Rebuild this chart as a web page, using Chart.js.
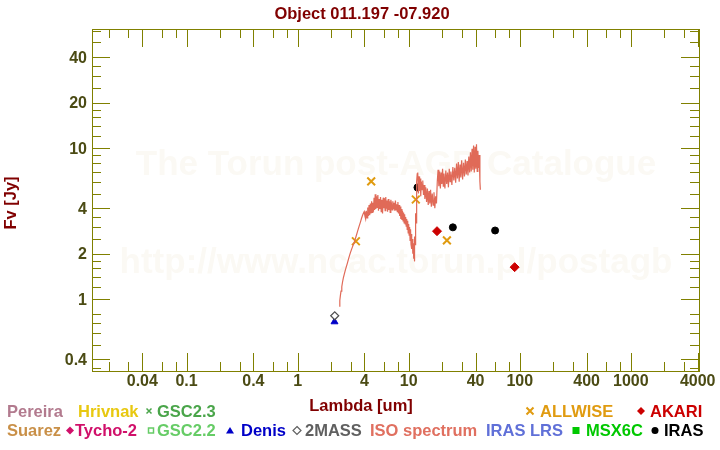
<!DOCTYPE html>
<html>
<head>
<meta charset="utf-8">
<title>Object 011.197 -07.920</title>
<script src="https://cdn.jsdelivr.net/npm/chart.js@4.4.1/dist/chart.umd.min.js"></script>
<style>
  html, body { margin: 0; padding: 0; background: #fff; }
  #wrap { width: 720px; height: 450px; position: relative; }
</style>
</head>
<body>
<div id="wrap"><canvas id="sed"></canvas></div>
<script>
// ISO spectrum (lambda in um, flux in Jy)
const isoLambda = [
  2.37, 2.40, 2.43, 2.46, 2.50, 2.54, 2.58, 2.63, 2.68, 2.74, 2.80, 2.86, 2.92, 2.98, 3.05, 3.12, 3.20, 3.28,
  3.36, 3.44, 3.52, 3.60, 3.68, 3.76, 3.84, 3.92, 3.98,
  4.04, 4.10, 4.16, 4.22, 4.28, 4.34, 4.40, 4.46, 4.52, 4.58, 4.64, 4.70, 4.76, 4.82, 4.88, 4.94, 5.00, 5.07,
  5.14, 5.21, 5.28, 5.35, 5.42, 5.50, 5.58, 5.66, 5.74, 5.82, 5.90, 5.98, 6.06, 6.14, 6.22, 6.30, 6.38, 6.46,
  6.55, 6.64, 6.73, 6.82, 6.91,
  7.00, 7.10, 7.20, 7.30, 7.40, 7.50, 7.60, 7.70, 7.80, 7.90, 8.00, 8.10, 8.20, 8.30, 8.40, 8.50, 8.60, 8.70,
  8.80, 8.90, 9.00, 9.10, 9.20, 9.30, 9.40, 9.50, 9.60, 9.70, 9.80, 9.90, 10.00, 10.10, 10.20, 10.30, 10.40,
  10.50, 10.60, 10.70, 10.80, 10.90, 11.00, 11.10, 11.20, 11.25, 11.35, 11.45, 11.55, 11.65, 11.75, 11.85,
  11.95, 12.05, 12.10,
  12.25, 12.40, 12.55, 12.70, 12.85, 13.00, 13.20, 13.40, 13.60, 13.80, 14.00, 14.25, 14.50, 14.75, 15.00,
  15.25, 15.50, 15.75, 16.00, 16.30, 16.60, 16.90, 17.20, 17.50, 17.80,
  18.10, 18.40, 18.70, 19.00, 19.30, 19.60, 19.90, 20.20, 20.50, 20.80, 21.20, 21.60, 22.00, 22.40, 22.80,
  23.20, 23.60, 24.00, 24.50, 25.00, 25.50, 26.00, 26.50, 27.00, 27.50, 28.00, 28.50, 29.00, 29.50, 30.00,
  30.60, 31.20, 31.80, 32.40, 33.00, 33.60, 34.20, 34.80, 35.40, 36.00, 36.60, 37.20, 37.80, 38.40, 39.00,
  39.60, 40.20, 40.80, 41.40, 42.00, 42.60, 43.20, 43.80, 44.20
];
const isoFlux = [
  0.90, 0.98, 1.06, 1.13, 1.21, 1.30, 1.38, 1.46, 1.54, 1.63, 1.72, 1.82, 1.92, 2.02, 2.12, 2.22, 2.33, 2.45,
  2.60, 2.76, 2.92, 3.08, 3.24, 3.42, 3.58, 3.72, 3.80,
  3.55, 3.40, 3.85, 3.45, 4.05, 3.55, 4.20, 3.60, 4.30, 3.70, 4.45, 3.75, 4.35, 3.80, 4.70, 3.90, 4.95, 3.95,
  4.80, 4.05, 4.90, 3.85, 4.60, 3.95, 4.75, 3.80, 4.55, 3.70, 4.70, 4.00, 4.65, 3.85, 4.75, 4.00, 4.50, 3.80,
  4.60, 3.90, 4.45, 3.75, 4.55,
  4.30, 3.90, 4.45, 3.95, 4.35, 3.85, 4.50, 3.90, 4.25, 3.80, 4.40, 3.70, 4.20, 3.55, 4.10, 3.40, 3.95, 3.35,
  3.85, 3.30, 3.75, 3.20, 3.65, 3.15, 3.50, 3.05, 3.40, 2.90, 3.30, 2.75, 3.15, 2.65, 3.00, 2.45, 2.90,
  2.30, 2.70, 2.15, 2.50, 2.00, 2.35, 1.85, 2.20, 1.78, 2.60, 2.30, 3.70, 3.20, 5.00, 6.00,
  6.80, 6.20, 6.90,
  5.00, 6.50, 5.20, 6.30, 4.80, 6.00, 5.30, 6.10, 4.90, 5.70, 4.60, 5.50, 4.40, 5.40, 4.20,
  5.20, 4.30, 5.30, 4.10, 5.00, 4.20, 5.10, 4.00, 4.80, 4.30,
  6.00, 7.20, 5.60, 7.00, 5.40, 6.90, 5.80, 7.30, 5.60, 6.80, 5.40, 7.10, 5.80, 6.90, 5.50,
  7.30, 6.00, 7.00, 5.70, 7.50, 6.10, 7.40, 5.90, 7.90, 6.30, 8.10, 6.00, 7.80, 6.40, 8.30,
  6.20, 8.00, 6.50, 8.40, 6.70, 8.20, 6.60, 8.80, 6.90, 9.40, 7.00, 9.90, 7.20, 10.40, 6.90,
  10.20, 7.30, 10.60, 7.00, 9.60, 7.40, 9.00, 6.00, 5.30
];

// photometry
const allwiseLambda = [3.35, 4.6, 11.6, 22.1];
const allwiseFlux = [2.42, 6.02, 4.57, 2.45];
const akariLambda = [18, 90];
const akariFlux = [2.82, 1.63];
const irasLambda = [12, 25, 60];
const irasFlux = [5.49, 2.99, 2.85];
const twomassLambda = [2.16];
const twomassFlux = [0.777];
const denisLambda = [2.15];
const denisFlux = [0.709];

// axis ranges and ticks
const xRange = [0.0141, 4110];
const yRange = [0.335, 61.4];
const xMajor = [0.04, 0.1, 0.4, 1, 4, 10, 40, 100, 400, 1000, 4000];
const xMinor = [0.02, 0.03, 0.06, 0.08, 0.2, 0.3, 0.6, 0.8, 2, 3, 6, 8, 20, 30, 60, 80,
                200, 300, 600, 800, 2000, 3000];
const yMajor = [0.4, 1, 2, 4, 10, 20, 40];
const yMinor = [0.35, 0.5, 0.6, 0.7, 0.8, 1.2, 1.4, 1.6, 1.8, 2.5, 3, 3.5, 5, 6, 7, 8, 9,
                12, 14, 16, 18, 25, 30, 35, 50, 60];

const titleText = 'Object 011.197 -07.920';
const watermark = ['The Torun post-AGB Catalogue', 'http://www.ncac.torun.pl/postagb'];

// catalogue legend: [label, colour, symbol, symbol x, text x, row]
const legendItems = [
  ['Pereira', '#b27a8e', null, 0, 7, 0],
  ['Hrivnak', '#e8c810', null, 0, 78, 0],
  ['GSC2.3', '#4aa54a', 'smallcross', 149, 157, 0],
  ['ALLWISE', '#e09b10', 'cross', 530, 540, 0],
  ['AKARI', '#cc0000', 'diamond', 641, 650, 0],
  ['Suarez', '#c99048', null, 0, 7, 1],
  ['Tycho-2', '#d0106a', 'diamond', 70, 75, 1],
  ['GSC2.2', '#66cc66', 'opensquare', 151, 157, 1],
  ['Denis', '#0000c8', 'triangle', 230, 241, 1],
  ['2MASS', '#606060', 'opendiamond', 297, 305, 1],
  ['ISO spectrum', '#e07060', null, 0, 370, 1],
  ['IRAS LRS', '#6070d8', null, 0, 486, 1],
  ['MSX6C', '#00c800', 'square', 576, 586, 1],
  ['IRAS', '#000000', 'circle', 655, 664, 1]
];

const FONT = '"Liberation Sans", Arial, Helvetica, sans-serif';
const frameColor = '#808000';
const tickTextColor = '#4b4b14';
const titleColor = '#800000';

function pts(xs, ys) {
  return xs.map((x, i) => ({ x: x, y: ys[i] }));
}

// keep the log axes exactly on the requested range
function fixRange(range) {
  return function(scale) {
    scale.min = range[0];
    scale.max = range[1];
  };
}

function drawSymbol(ctx, kind, x, y, color) {
  ctx.save();
  ctx.fillStyle = color;
  ctx.strokeStyle = color;
  ctx.beginPath();
  if (kind == 'cross' || kind == 'smallcross') {
    let r = kind == 'cross' ? 3.5 : 2.5;
    ctx.lineWidth = kind == 'cross' ? 2 : 1.5;
    ctx.moveTo(x - r, y - r); ctx.lineTo(x + r, y + r);
    ctx.moveTo(x - r, y + r); ctx.lineTo(x + r, y - r);
    ctx.stroke();
  } else if (kind == 'diamond' || kind == 'opendiamond') {
    ctx.moveTo(x, y - 4); ctx.lineTo(x + 4, y); ctx.lineTo(x, y + 4); ctx.lineTo(x - 4, y);
    ctx.closePath();
    if (kind == 'diamond') ctx.fill(); else { ctx.lineWidth = 1.2; ctx.stroke(); }
  } else if (kind == 'opensquare') {
    ctx.lineWidth = 1.5;
    ctx.strokeRect(x - 2.5, y - 2.5, 5, 5);
  } else if (kind == 'square') {
    ctx.fillRect(x - 3.5, y - 3.5, 7, 7);
  } else if (kind == 'triangle') {
    ctx.moveTo(x, y - 3.5); ctx.lineTo(x + 4, y + 3); ctx.lineTo(x - 4, y + 3);
    ctx.closePath();
    ctx.fill();
  } else if (kind == 'circle') {
    ctx.arc(x, y, 3.5, 0, Math.PI * 2);
    ctx.fill();
  }
  ctx.restore();
}

const sedFrame = {
  id: 'sedFrame',
  beforeDatasetsDraw(chart) {
    const ctx = chart.ctx;
    ctx.save();
    ctx.fillStyle = '#fbf9f4';
    ctx.font = 'bold 35px ' + FONT;
    ctx.textAlign = 'center';
    ctx.fillText(watermark[0], 396, 175);
    ctx.fillText(watermark[1], 396, 273);
    ctx.restore();
  },
  afterDraw(chart) {
    const ctx = chart.ctx;
    const a = chart.chartArea;
    const xs = chart.scales.x, ys = chart.scales.y;
    ctx.save();

    // frame + ticks on all four sides
    ctx.strokeStyle = frameColor;
    ctx.lineWidth = 1;
    ctx.strokeRect(a.left + 0.5, a.top + 0.5, a.right - a.left, a.bottom - a.top);
    ctx.beginPath();
    const xt = (vals, len) => vals.forEach(v => {
      const p = Math.round(xs.getPixelForValue(v)) + 0.5;
      ctx.moveTo(p, a.bottom); ctx.lineTo(p, a.bottom - len);
      ctx.moveTo(p, a.top); ctx.lineTo(p, a.top + len);
    });
    const yt = (vals, len) => vals.forEach(v => {
      const p = Math.round(ys.getPixelForValue(v)) + 0.5;
      ctx.moveTo(a.left, p); ctx.lineTo(a.left + len, p);
      ctx.moveTo(a.right, p); ctx.lineTo(a.right - len, p);
    });
    xt(xMajor, 18); xt(xMinor, 9);
    yt(yMajor, 18); yt(yMinor, 9);
    ctx.stroke();

    // tick labels
    ctx.fillStyle = tickTextColor;
    ctx.font = 'bold 16px ' + FONT;
    ctx.textAlign = 'center';
    ctx.textBaseline = 'alphabetic';
    xMajor.forEach(v => ctx.fillText(String(v), xs.getPixelForValue(v), 386));
    ctx.textAlign = 'right';
    yMajor.forEach(v => ctx.fillText(String(v), 87, ys.getPixelForValue(v) + 5.6));

    // titles
    ctx.font = 'bold 16.5px ' + FONT;
    ctx.fillStyle = titleColor;
    ctx.textAlign = 'center';
    ctx.fillText('Lambda [um]', 361, 411);
    ctx.save();
    ctx.translate(15.5, 203);
    ctx.rotate(-Math.PI / 2);
    ctx.fillText('Fv [Jy]', 0, 0);
    ctx.restore();
    ctx.fillText(titleText, 362, 19);

    // catalogue legend
    ctx.textAlign = 'left';
    legendItems.forEach(it => {
      const base = it[5] == 0 ? 416.5 : 436;
      if (it[2]) drawSymbol(ctx, it[2], it[3], base - 5.5, it[1]);
      ctx.fillStyle = it[1];
      ctx.fillText(it[0], it[4], base);
    });
    ctx.restore();
  }
};

new Chart(document.getElementById('sed'), {
  type: 'scatter',
  data: {
    datasets: [
      {
        label: 'ISO spectrum',
        data: pts(isoLambda, isoFlux),
        showLine: true,
        borderColor: '#e06a58',
        borderWidth: 1.2,
        pointRadius: 0,
        tension: 0
      },
      {
        label: 'ALLWISE',
        data: pts(allwiseLambda, allwiseFlux),
        pointStyle: 'crossRot',
        pointRadius: 5.5,
        borderColor: '#e09b10',
        borderWidth: 2
      },
      {
        label: 'AKARI',
        data: pts(akariLambda, akariFlux),
        pointStyle: 'rectRot',
        pointRadius: 4.5,
        backgroundColor: '#cc0000',
        borderColor: '#cc0000',
        borderWidth: 1
      },
      {
        label: 'IRAS',
        data: pts(irasLambda, irasFlux),
        pointStyle: 'circle',
        pointRadius: 3.5,
        backgroundColor: '#000000',
        borderColor: '#000000',
        borderWidth: 1
      },
      {
        label: '2MASS',
        data: pts(twomassLambda, twomassFlux),
        pointStyle: 'rectRot',
        pointRadius: 4,
        backgroundColor: '#ffffff',
        borderColor: '#505050',
        borderWidth: 1.2
      },
      {
        label: 'Denis',
        data: pts(denisLambda, denisFlux),
        pointStyle: 'triangle',
        pointRadius: 4,
        backgroundColor: '#0000c8',
        borderColor: '#0000c8',
        borderWidth: 1
      }
    ]
  },
  options: {
    responsive: true,
    maintainAspectRatio: false,
    animation: false,
    layout: { padding: { left: 92, right: 21, top: 29, bottom: 79 } },
    scales: {
      x: { type: 'logarithmic', min: xRange[0], max: xRange[1], display: false, afterBuildTicks: fixRange(xRange) },
      y: { type: 'logarithmic', min: yRange[0], max: yRange[1], display: false, afterBuildTicks: fixRange(yRange) }
    },
    plugins: {
      legend: { display: false },
      tooltip: { enabled: false }
    }
  },
  plugins: [sedFrame]
});
</script>
</body>
</html>
